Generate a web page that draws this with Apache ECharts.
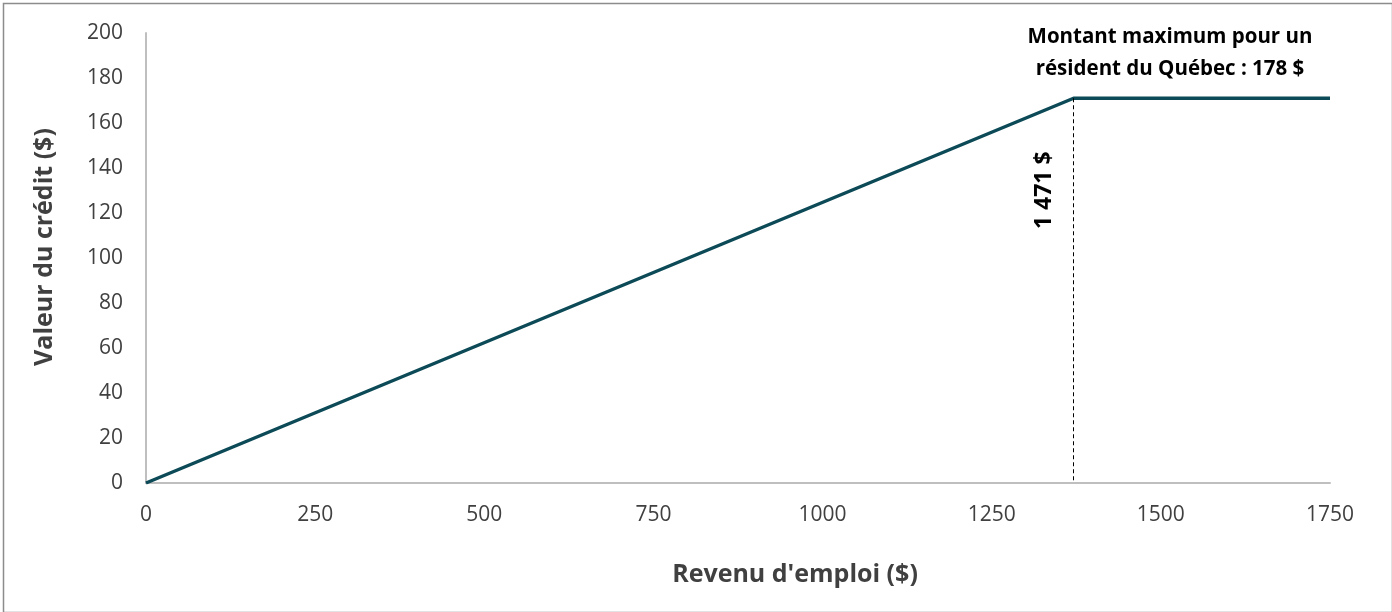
<!DOCTYPE html>
<html>
<head>
<meta charset="utf-8">
<script src="https://cdn.jsdelivr.net/npm/echarts@6/dist/echarts.min.js"></script>
<style>
  html, body { margin: 0; padding: 0; background: #fff; }
  #creditChart { width: 1392px; height: 612px; }
</style>
</head>
<body>
<div id="creditChart"></div>
<script>
// revenu d'emploi ($) et valeur du crédit ($)
const revenu = [0, 1371, 1750]
const credit = [0, 171, 171]
const seuilRevenu = 1371
const seuilLabel = '1 471 $'
const noteMax = 'Montant maximum pour un\nrésident du Québec : 178 $'
const xTicks = { min: 0, max: 1750, interval: 250 }
const yTicks = { min: 0, max: 200, interval: 20 }

const font = '"Open Sans", "Noto Sans", sans-serif'
const chart = echarts.init(document.getElementById('creditChart'))

const option = {
  animation: false,
  grid: { left: 146, right: 62, top: 33, bottom: 129 },
  xAxis: {
    type: 'value',
    min: xTicks.min, max: xTicks.max, interval: xTicks.interval,
    axisLine: { show: true, lineStyle: { color: '#bfbfbf', width: 2 } },
    axisTick: { show: false },
    splitLine: { show: false },
    axisLabel: { color: '#404040', fontSize: 21, fontFamily: font, margin: 22,
      formatter: v => String(v) }
  },
  yAxis: {
    type: 'value',
    min: yTicks.min, max: yTicks.max, interval: yTicks.interval,
    axisLine: { show: true, lineStyle: { color: '#bfbfbf', width: 2 } },
    axisTick: { show: false },
    splitLine: { show: false },
    axisLabel: { color: '#404040', fontSize: 21, fontFamily: font, margin: 23 }
  },
  series: [{
    type: 'line',
    data: revenu.map((x, i) => [x, credit[i]]),
    symbol: 'none',
    lineStyle: { color: '#0c4a57', width: 3.5 },
    markLine: {
      silent: true,
      symbol: 'none',
      lineStyle: { color: '#000', type: [4, 3], width: 1 },
      label: { show: false },
      data: [[{ coord: [seuilRevenu, credit[1]] }, { coord: [seuilRevenu, 0] }]]
    }
  }],
  graphic: [
    { type: 'rect', left: 1, top: 1, shape: { width: 1389, height: 609 },
      style: { fill: 'none', stroke: '#8c8c8c', lineWidth: 1.5 } },
    { type: 'text', x: 1170, y: 21,
      style: { text: noteMax, fill: '#000', font: 'bold 20.5px ' + font,
        textAlign: 'center', lineHeight: 32 } },
    { type: 'text', x: 795, y: 575,
      style: { text: "Revenu d'emploi ($)", fill: '#404040', font: 'bold 25px ' + font,
        textAlign: 'center', textVerticalAlign: 'middle' } },
    { type: 'text', x: 45, y: 247, rotation: Math.PI / 2,
      style: { text: 'Valeur du crédit ($)', fill: '#404040', font: 'bold 25px ' + font,
        textAlign: 'center', textVerticalAlign: 'middle' } }
  ]
}
chart.setOption(option)

// étiquette verticale du seuil, placée à partir de l'échelle
const seuilPx = chart.convertToPixel({ gridIndex: 0 }, [seuilRevenu, credit[1]])
chart.setOption({
  graphic: [
    { id: 'seuil', type: 'text', x: seuilPx[0] - 29, y: seuilPx[1] + 92,
      rotation: Math.PI / 2,
      style: { text: seuilLabel, fill: '#000', font: 'bold 23px ' + font,
        textAlign: 'center', textVerticalAlign: 'middle' } }
  ]
})
</script>
</body>
</html>
